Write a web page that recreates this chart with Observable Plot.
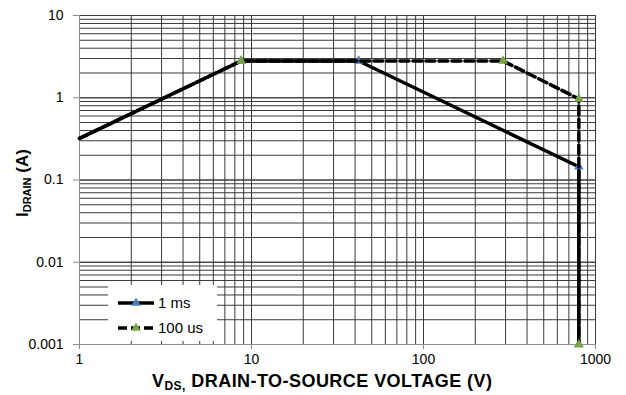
<!DOCTYPE html>
<html>
<head>
<meta charset="utf-8">
<script src="https://cdn.jsdelivr.net/npm/d3@7"></script>
<script src="https://cdn.jsdelivr.net/npm/@observablehq/plot@0.6"></script>
<style>
  html, body { margin: 0; padding: 0; background: #fff; }
  #chart { width: 626px; height: 395px; }
  svg { font-family: "Liberation Sans", Arial, sans-serif; }
</style>
</head>
<body>
<div id="chart"></div>
<script>
// ---- data ----
const seriesNames = ["1 ms", "100 us"];
const vds1ms   = [1, 8.7, 42, 800, 800];
const id1ms    = [0.32, 2.8, 2.8, 0.145, 0.001];
const vds100us = [1, 8.7, 290, 800, 800];
const id100us  = [0.32, 2.8, 2.8, 0.97, 0.001];
const markers1ms = [false, true, true, true, true];
const markers100us = [false, true, true, true, true];
const xTicks = [1, 10, 100, 1000];
const yTicks = [0.001, 0.01, 0.1, 1, 10];
const xTitle = ["V", "DS,", " DRAIN-TO-SOURCE VOLTAGE (V)"];
const yTitle = ["I", "DRAIN", " (A)"];
const colors = {line: "#000000", m1: "#4A7EBB", m2: "#77A545"};

// minor grid values
const xGrid = [];
for (let d = 1; d < 1000; d *= 10) for (let k = 1; k <= 10; k++) xGrid.push(d * k);
const yGrid = [];
for (let d = 0.001; d < 10; d *= 10) for (let k = 1; k <= 10; k++) yGrid.push(+(d * k).toPrecision(3));

const s1 = vds1ms.map((v, i) => ({x: v, y: id1ms[i], m: markers1ms[i]}));
const s2 = vds100us.map((v, i) => ({x: v, y: id100us[i], m: markers100us[i]}));

const W = 626, H = 395;
const M = {left: 79, right: 31, top: 15, bottom: 51};

const chart = Plot.plot({
  width: W, height: H,
  marginLeft: M.left, marginRight: M.right, marginTop: M.top, marginBottom: M.bottom,
  x: {type: "log", domain: [1, 1000]},
  y: {type: "log", domain: [0.001, 10]},
  style: {fontFamily: "Liberation Sans, Arial, sans-serif", fontSize: "14px", color: "#000", background: "#fff"},
  marks: [
    Plot.ruleX(xGrid.filter(v => v > 1), {stroke: "#3a3a3a", strokeWidth: 1, strokeOpacity: 1}),
    Plot.ruleY(yGrid.filter(v => v > 0.001), {stroke: "#3a3a3a", strokeWidth: 1, strokeOpacity: 1}),
    Plot.ruleX([1], {stroke: "#8c8c8c", strokeWidth: 1, strokeOpacity: 1}),
    Plot.ruleY([0.001], {stroke: "#8c8c8c", strokeWidth: 1, strokeOpacity: 1}),
    Plot.axisY({ticks: yTicks, tickFormat: d => String(d), tickSize: 6, tickPadding: 10, stroke: "#8c8c8c", fontSize: 14, fill: "#000", label: null}),
    Plot.axisX({ticks: xTicks, tickFormat: d => String(d), tickSize: 5, tickPadding: 5, stroke: "#8c8c8c", fontSize: 14, fill: "#000", label: null}),
    Plot.line(s1, {x: "x", y: "y", stroke: colors.line, strokeWidth: 3.5, curve: "linear"}),
    Plot.dot(s1.filter(d => d.m), {x: "x", y: "y", symbol: "triangle", r: 3.6, fill: colors.m1, stroke: "none"}),
    Plot.line(s2, {x: "x", y: "y", stroke: colors.line, strokeWidth: 3.5, strokeDasharray: "9,4", curve: "linear"}),
    Plot.dot(s2.filter(d => d.m), {x: "x", y: "y", symbol: "triangle", r: 3.6, fill: colors.m2, stroke: "none"})
  ]
});
document.getElementById("chart").appendChild(chart);

// ---- legend + axis titles (decoration) ----
const svg = d3.select(chart);
const lg = svg.insert("g", "g[aria-label='line']");
lg.append("rect").attr("x", 108).attr("y", 285).attr("width", 109).attr("height", 56).attr("fill", "#fff");
const items = [
  {name: seriesNames[0], dash: null, color: colors.m1, y: 303},
  {name: seriesNames[1], dash: "9,4", color: colors.m2, y: 328}
];
items.forEach(it => {
  lg.append("line").attr("x1", 118).attr("x2", 154).attr("y1", it.y).attr("y2", it.y)
    .attr("stroke", "#000").attr("stroke-width", 3.5).attr("stroke-dasharray", it.dash);
  lg.append("path").attr("d", d3.symbol(d3.symbolTriangle, 40)()).attr("transform", `translate(136,${it.y})`).attr("fill", it.color);
  lg.append("text").attr("x", 158).attr("y", it.y).attr("dy", "0.35em").attr("text-anchor", "start")
    .attr("font-size", 15).attr("fill", "#000").text(it.name);
});

const xt = svg.append("text").attr("x", 152).attr("y", 387).attr("text-anchor", "start")
  .attr("font-size", 18).attr("font-weight", "bold").attr("letter-spacing", 0.45).attr("fill", "#000");
xt.append("tspan").text(xTitle[0]);
xt.append("tspan").attr("font-size", 12).attr("dy", 3).text(xTitle[1]);
xt.append("tspan").attr("dy", -3).text(xTitle[2]);

const yt = svg.append("text").attr("transform", "translate(28,217) rotate(-90)").attr("text-anchor", "start")
  .attr("font-size", 17).attr("font-weight", "bold").attr("fill", "#000");
yt.append("tspan").text(yTitle[0]);
yt.append("tspan").attr("font-size", 11).attr("dy", 3).text(yTitle[1]);
yt.append("tspan").attr("dy", -3).text(yTitle[2]);
</script>
</body>
</html>
